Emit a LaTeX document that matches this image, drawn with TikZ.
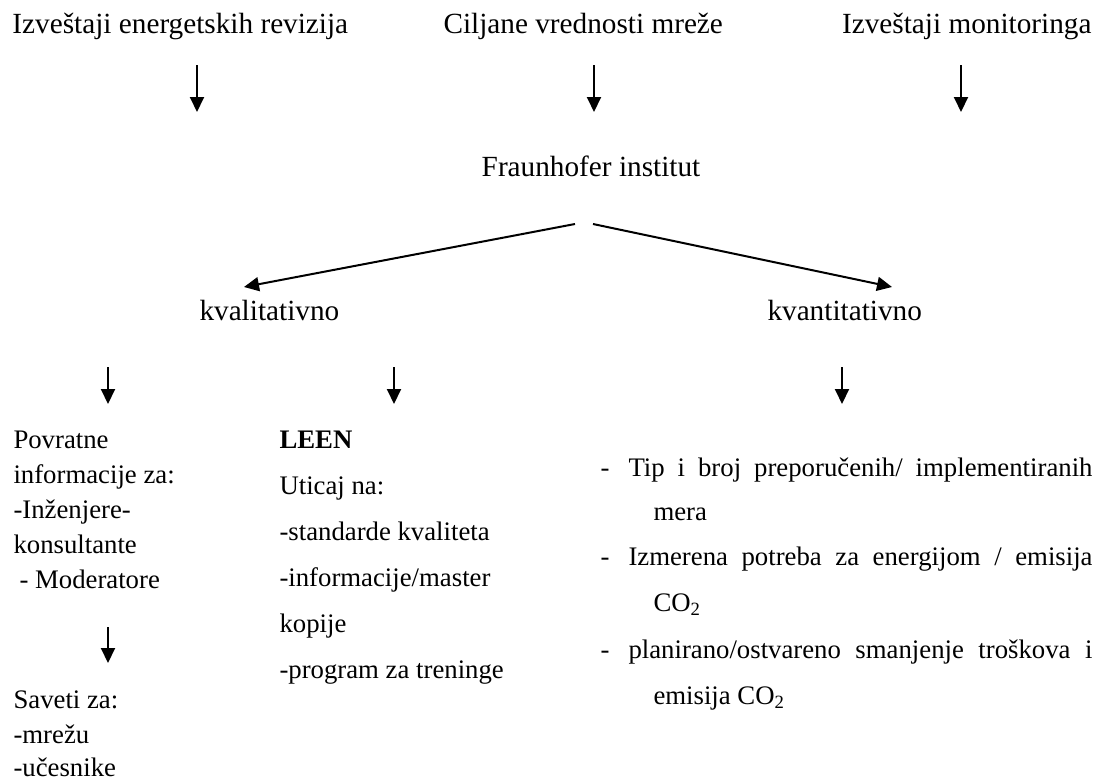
\documentclass[tikz,border=0pt]{standalone}
\usepackage{fontspec}
\setmainfont{Liberation Serif}
\usetikzlibrary{arrows.meta}
\tikzset{strelica/.style={line width=0.8pt, -{Triangle[length=6pt,width=5.6pt]}},
         naslov/.style={anchor=base west, inner sep=0pt, font=\fontsize{11.7}{14}\selectfont},
         tekst/.style={anchor=base west, inner sep=0pt, font=\fontsize{10.7}{13}\selectfont}}

\begin{document}
\begin{tikzpicture}[x=0.4pt,y=-0.4pt]
\useasboundingbox (0,0) rectangle (1099,780);
% Top row:
\node[naslov] (revizije) at (12,33) {Izveštaji energetskih revizija};
\node[naslov] (ciljevi) at (443,33) {Ciljane vrednosti mreže};
\node[naslov,anchor=base east] (monitoring) at (1092,33) {Izveštaji monitoringa};
\coordinate (rev1) at (197,65);  \coordinate (rev2) at (197,112);
\coordinate (cilj1) at (594,65); \coordinate (cilj2) at (594,112);
\coordinate (mon1) at (961,65);  \coordinate (mon2) at (961,112);
\draw[strelica] (rev1) -- (rev2);
\draw[strelica] (cilj1) -- (cilj2);
\draw[strelica] (mon1) -- (mon2);
% Institute:
\node[naslov,anchor=base] (fraunhofer) at (591,176) {Fraunhofer institut};
\coordinate (levo) at (575,224);  \coordinate (desno) at (593,224);
\coordinate (kval) at (244,287);  \coordinate (kvan) at (892,287);
\draw[strelica] (levo) -- (kval);
\draw[strelica] (desno) -- (kvan);
\node[naslov] (kvalitativno) at (199,320) {kvalitativno};
\node[naslov] (kvantitativno) at (767,320) {kvantitativno};
% Second level arrows:
\coordinate (pov1) at (108,367);  \coordinate (pov2) at (108,404);
\coordinate (leen1) at (394,367); \coordinate (leen2) at (394,404);
\coordinate (mere1) at (842,367); \coordinate (mere2) at (842,404);
\draw[strelica] (pov1) -- (pov2);
\draw[strelica] (leen1) -- (leen2);
\draw[strelica] (mere1) -- (mere2);
% Left column:
\node[tekst] (pov) at (13,448) {Povratne};
\node[tekst] (info) at (13,483) {informacije za:};
\node[tekst] (inz) at (13,518) {-Inženjere-};
\node[tekst] (kons) at (13,553) {konsultante};
\node[tekst] (mod) at (19,588) {- Moderatore};
\coordinate (sav1) at (108,627); \coordinate (sav2) at (108,663);
\draw[strelica] (sav1) -- (sav2);
\node[tekst] (saveti) at (13,708) {Saveti za:};
\node[tekst] (mreza) at (13,743) {-mrežu};
\node[tekst] (ucesnici) at (13,776) {-učesnike};
% LEEN column:
\node[tekst] (leen) at (279,448) {\textbf{LEEN}};
\node[tekst] (uticaj) at (279,494) {Uticaj na:};
\node[tekst] (standard) at (279,540) {-standarde kvaliteta};
\node[tekst] (master) at (279,586) {-informacije/master};
\node[tekst] (kopije) at (279,632) {kopije};
\node[tekst] (trening) at (279,678) {-program za treninge};
% Right column:
\node[tekst] (crta1) at (600,476) {-};
\node[tekst] (tip) at (628,476) {\makebox[185.6pt][s]{Tip i broj preporučenih/ implementiranih}};
\node[tekst] (mera) at (653,520) {mera};
\node[tekst] (crta2) at (600,565) {-};
\node[tekst] (potreba) at (628,565) {\makebox[185.6pt][s]{Izmerena potreba za energijom / emisija}};
\node[tekst] (co1) at (653,611) {CO\textsubscript{2}};
\node[tekst] (crta3) at (600,658) {-};
\node[tekst] (smanjenje) at (628,658) {\makebox[185.6pt][s]{planirano/ostvareno smanjenje troškova i}};
\node[tekst] (co2) at (653,704) {emisija CO\textsubscript{2}};
\end{tikzpicture}
\end{document}
